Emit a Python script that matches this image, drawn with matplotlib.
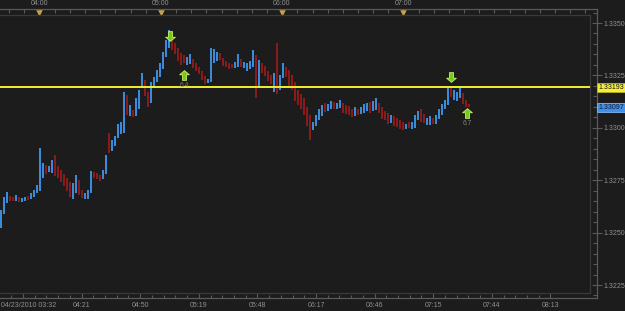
"""EUR/USD-style minute bar chart, dark trading-terminal look."""
import matplotlib

matplotlib.use("Agg")
import matplotlib.pyplot as plt
import matplotlib.transforms as mtransforms
import numpy as np
from matplotlib.path import Path

BASE = 1.3200  # bar values below are pips above this level

HI_PIPS = [
    61.0, 67.0, 69.6, 67.7, 67.2, 68.1, 67.2, 66.7, 67.2, 67.7,
    69.0, 70.5, 72.9, 90.5, 83.4, 82.4, 82.0, 84.5, 87.0, 82.0,
    80.0, 78.0, 76.0, 74.0, 73.5, 77.5, 75.0, 70.5, 69.0, 70.5,
    79.5, 79.0, 78.5, 77.5, 80.0, 87.2, 97.6, 94.3, 96.0, 102.0,
    103.0, 117.2, 115.5, 111.0, 108.5, 114.0, 118.0, 126.2, 123.0, 117.0,
    122.0, 124.0, 127.5, 131.0, 136.0, 142.0, 146.7, 144.0, 140.5, 138.0,
    135.5, 134.8, 133.8, 135.0, 133.0, 131.0, 129.0, 127.0, 124.5, 123.5,
    138.0, 137.5, 136.0, 135.5, 133.5, 132.0, 131.0, 130.5, 131.5, 135.0,
    133.0, 131.5, 131.0, 132.0, 137.0, 134.8, 132.4, 131.0, 129.5, 127.0,
    125.0, 126.0, 140.5, 125.0, 131.0, 129.0, 127.6, 125.0, 122.0, 118.0,
    116.0, 114.0, 110.0, 106.0, 103.0, 106.0, 109.0, 111.0, 112.0, 111.5,
    113.0, 112.5, 112.0, 113.4, 112.0, 111.0, 110.5, 109.0, 110.0, 109.0,
    110.0, 111.5, 112.0, 112.5, 113.0, 114.0, 112.0, 110.0, 108.0, 107.0,
    106.0, 105.5, 104.5, 103.8, 103.0, 102.0, 103.0, 103.0, 106.0, 108.0,
    109.0, 106.5, 104.5, 105.5, 104.5, 106.0, 109.0, 111.5, 113.5, 119.5,
    119.1, 118.0, 117.0, 119.0, 116.5, 113.5, 111.5,
]
LO_PIPS = [
    52.4, 59.0, 64.0, 65.0, 65.2, 65.2, 64.8, 64.8, 65.2, 65.7,
    66.2, 67.2, 69.0, 70.0, 76.0, 78.0, 79.0, 78.5, 77.0, 76.0,
    74.0, 72.0, 70.0, 67.0, 66.0, 69.0, 68.0, 66.5, 66.2, 66.2,
    69.0, 76.0, 75.5, 74.5, 75.5, 78.0, 88.0, 89.0, 91.5, 95.0,
    97.0, 97.5, 106.0, 105.5, 105.0, 105.5, 109.0, 119.0, 115.0, 110.0,
    112.0, 119.0, 122.0, 124.0, 128.0, 134.0, 138.0, 137.0, 135.0, 132.0,
    130.0, 131.0, 130.0, 130.5, 128.5, 127.0, 125.5, 123.0, 121.0, 121.5,
    122.0, 131.0, 132.0, 132.5, 129.5, 129.0, 128.0, 128.5, 128.6, 129.0,
    129.0, 128.5, 127.0, 128.0, 129.0, 114.3, 119.5, 126.0, 124.5, 122.5,
    121.0, 117.0, 116.0, 118.0, 123.8, 124.0, 120.0, 118.0, 113.0, 111.0,
    109.0, 106.0, 101.0, 94.3, 99.0, 101.0, 103.5, 105.5, 107.5, 108.0,
    109.0, 109.0, 109.0, 109.5, 107.0, 106.5, 106.0, 105.0, 105.5, 106.0,
    106.5, 107.0, 108.0, 107.0, 108.0, 108.5, 107.0, 104.0, 103.5, 102.0,
    102.5, 101.0, 100.5, 99.5, 99.0, 99.5, 100.0, 99.5, 100.0, 103.5,
    103.0, 102.5, 101.5, 101.5, 102.0, 102.0, 104.0, 106.0, 109.0, 111.0,
    114.5, 113.5, 113.0, 114.0, 111.5, 110.0, 109.8,
]
# u = up bar (blue), d = down bar (red)
DIRECTION = (
    "uuudduduud" "uuuuuduudd" "dddduudduu" "uddduuduuu" "uududuuudd"
    "uuuuuuuddd" "dduudddddu" "uuuddddduu" "duuuududdd" "duduuddddd"
    "dddduuuudu" "uduuddddud" "uuuduudddd" "udddduduuu" "dduuduuuuu"
    "duuuddd"
)

LEVEL_LINE = 1.33193
LAST_PRICE = 1.33097

# signal arrows: (bar index, price), label under the up arrows
DOWN_ARROWS = [(56.3, 1.33440), (150.0, 1.33240)]
UP_ARROWS = [(61.0, 1.33252), (155.3, 1.33071)]
UP_LABELS = ["6.4", "6.7"]

TOP_TIMES = ["04:00", "05:00", "06:00", "07:00"]
BOTTOM_TIMES = ["04/23/2010 03:32", "04:21", "04:50", "05:19", "05:48",
                "06:17", "06:46", "07:15", "07:44", "08:13"]
PRICE_TICKS = [1.3225, 1.3250, 1.3275, 1.3300, 1.3325, 1.3350]

BG = "#1c1c1c"
FRAME = "#3a3a3a"
AXIS = "#5a5a5a"
TXT = "#909090"
UP_C = "#3d8ee0"
DN_C = "#8e1b1b"

W, H = 625, 311
plt.rcParams["font.family"] = ["Liberation Sans", "DejaVu Sans"]
fig = plt.figure(figsize=(W / 100, H / 100), dpi=100, facecolor=BG)


def rect(x0, y0, x1, y1):
    # pixel box (top-left origin) -> figure fraction
    return [x0 / W, 1 - y1 / H, (x1 - x0) / W, (y1 - y0) / H]


# price per pixel, from the right-hand scale
px_price = 0.0125 / 262.0


def price_at(py):
    return 1.3350 - (py - 23) * px_price


# outer frame: price scale on the right, time scales top and bottom
outer = fig.add_axes(rect(0, 9, 597, 298))
outer.set_facecolor(BG)
outer.set_ylim(price_at(298), price_at(9))
outer.spines["left"].set_visible(False)
for s in ("top", "bottom", "right"):
    outer.spines[s].set_color(AXIS)
    outer.spines[s].set_linewidth(0.9)
outer.yaxis.tick_right()
outer.set_yticks(PRICE_TICKS)
outer.set_yticklabels([f"{v:.4f}" for v in PRICE_TICKS])
outer.set_yticks(np.arange(1.3220, 1.33551, 0.0005), minor=True)
outer.tick_params(axis="y", which="major", direction="inout", length=7,
                  width=0.8, color=AXIS, labelcolor=TXT, labelsize=5, pad=1)
outer.tick_params(axis="y", which="minor", direction="in", length=3,
                  width=0.8, color=AXIS)

# bottom time ticks
bmaj = 23 + 58.6 * np.arange(len(BOTTOM_TIMES))
outer.set_xticks(bmaj)
outer.set_xticklabels(BOTTOM_TIMES)
outer.set_xticks(np.arange(0, 597, 58.6 / 5) + 23 - 58.6, minor=True)
outer.tick_params(axis="x", which="major", direction="in", length=5,
                  width=0.8, color=AXIS, labelcolor=TXT, labelsize=5, pad=3)
outer.tick_params(axis="x", which="minor", direction="in", length=2.5,
                  width=0.8, color=AXIS)
outer.set_xlim(0, 597)
first = outer.get_xticklabels()[0]
first.set_horizontalalignment("left")
first.set_transform(first.get_transform() + mtransforms.ScaledTranslation(
    -0.22, 0, fig.dpi_scale_trans))

# top time ticks
top = outer.twiny()
top.set_xlim(0, 597)
for s in top.spines.values():
    s.set_visible(False)
tmaj = 39.3 + 121.3 * np.arange(len(TOP_TIMES))
top.set_xticks(tmaj)
top.set_xticklabels(TOP_TIMES)
top.set_xticks(np.arange(9.3, 597, 15.16), minor=True)
top.tick_params(axis="x", which="major", direction="in", length=0,
                labelcolor=TXT, labelsize=5, pad=1.5)
top.tick_params(axis="x", which="minor", direction="in", length=3,
                width=0.8, color=AXIS)
top.scatter(tmaj, [0.985] * len(tmaj), marker="v", s=22, color="#c9a04a",
            transform=top.get_xaxis_transform(), clip_on=False, zorder=5,
            linewidths=0)

# main chart area
ax = fig.add_axes(rect(0, 15, 590, 293))
ax.set_facecolor(BG)
for s in ax.spines.values():
    s.set_color(FRAME)
    s.set_linewidth(0.9)
ax.spines["left"].set_visible(False)
ax.set_xticks([])
ax.set_yticks([])
ax.set_ylim(price_at(293), price_at(15))
ax.set_xlim(-1 / 3, 589 / 3)

idx = np.arange(len(HI_PIPS))
highs = BASE + np.array(HI_PIPS) / 1e4
lows = BASE + np.array(LO_PIPS) / 1e4
cols = [UP_C if c == "u" else DN_C for c in DIRECTION]
ax.vlines(idx, lows, highs, colors=cols, linewidth=1.4)

ax.axhline(LEVEL_LINE, color="#f2ee30", linewidth=1.4, zorder=4)

# arrow markers
up_path = Path([(0, 1), (-1, 0.15), (-0.42, 0.15), (-0.42, -1), (0.42, -1),
                (0.42, 0.15), (1, 0.15), (0, 1)])
dn_path = Path([(x, -y) for x, y in up_path.vertices])
for (i, p) in DOWN_ARROWS:
    ax.plot(i, p, marker=dn_path, ms=7, color="#78c81e", mec="#c6ef6a",
            mew=0.6, zorder=6)
for (i, p), lab in zip(UP_ARROWS, UP_LABELS):
    ax.plot(i, p, marker=up_path, ms=7, color="#78c81e", mec="#c6ef6a",
            mew=0.6, zorder=6)
    ax.text(i, p - 7 * px_price, lab, color="#808080", fontsize=4.8,
            ha="center", va="top", zorder=6)

# price tags on the scale
outer.text(598, LEVEL_LINE, f"{LEVEL_LINE:.5f}", fontsize=5, color="#111111",
           ha="left", va="center", zorder=7, clip_on=False,
           bbox=dict(boxstyle="square,pad=0.15", fc="#f4f03a", ec="#b8b020",
                     lw=0.6))
outer.text(598, LAST_PRICE, f"{LAST_PRICE:.5f}", fontsize=5, color="#101830",
           ha="left", va="center", zorder=7, clip_on=False,
           bbox=dict(boxstyle="square,pad=0.15", fc="#3f90e6", ec="#7fb6f0",
                     lw=0.6))

fig.savefig("out.png", dpi=100, facecolor=BG)
